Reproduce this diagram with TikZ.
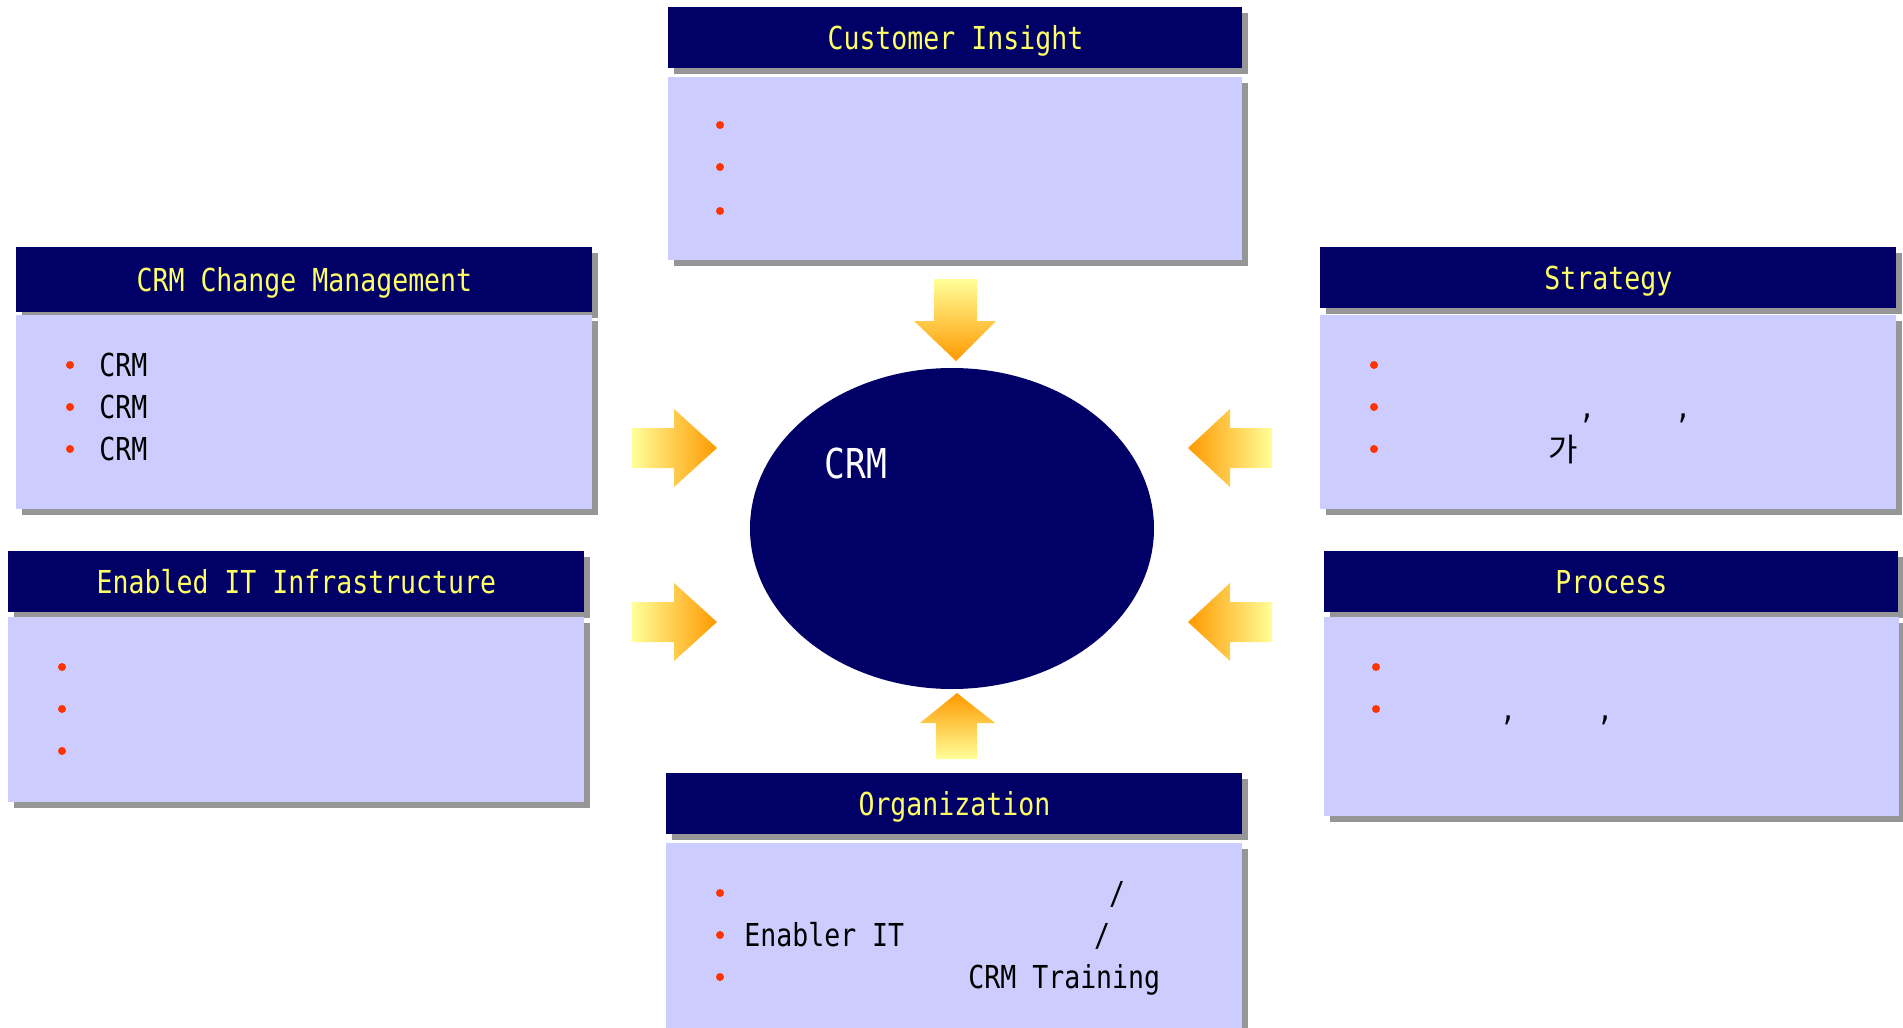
\documentclass[tikz,border=0pt]{standalone}
\usepackage{fontspec}
\usetikzlibrary{shapes.geometric,shadows}
\newfontfamily\gul[FakeStretch=0.84]{DejaVu Sans Mono}
\newfontfamily\kr{Noto Sans CJK KR}
\definecolor{navy}{HTML}{000066}
\definecolor{hdrtxt}{HTML}{FFFF66}
\definecolor{lav}{HTML}{CCCCFF}
\definecolor{shd}{HTML}{969696}
\definecolor{bul}{HTML}{FF3300}
\definecolor{ayel}{HTML}{FFFF99}
\definecolor{aorg}{HTML}{FF9900}
\tikzset{
  sh/.style={drop shadow={shadow xshift=3pt,shadow yshift=-3pt,fill=shd,opacity=1}},
  hdr/.style={sh, fill=navy, text=hdrtxt, font=\gul\fontsize{15.8}{18}\selectfont,
    inner sep=0pt, anchor=north west, text height=11.5pt, text depth=0pt},
  bodybox/.style={sh, fill=lav, inner sep=0pt, anchor=north west},
  txt/.style={font=\gul\fontsize{15.8}{18}\selectfont, inner sep=0pt, anchor=base west, text=black},
  punct/.style={txt, anchor=base},
  krtxt/.style={font=\kr\fontsize{16}{18}\selectfont, inner sep=0pt, anchor=base, text=black},
  dot/.style={fill=bul},
  rarrow/.style={left color=ayel, right color=aorg},
  larrow/.style={left color=aorg, right color=ayel},
  darrow/.style={top color=ayel, bottom color=aorg},
  uarrow/.style={top color=aorg, bottom color=ayel},
}
\begin{document}
\begin{tikzpicture}[x=0.5pt,y=-0.5pt]
\useasboundingbox (0,0) rectangle (1903,1028);

% Customer Insight
\node[hdr, minimum width=287pt, minimum height=30.5pt] (ciH) at (668,7) {Customer Insight};
\node[bodybox, minimum width=287pt, minimum height=91.5pt] (ciB) at (668,77) {};
\foreach \y in {125,167,211} \fill[dot] (720,\y) circle[radius=2pt];

% CRM Change Management
\node[hdr, minimum width=288pt, minimum height=32.5pt] (ccH) at (16,247) {CRM Change Management};
\node[bodybox, minimum width=288pt, minimum height=97pt] (ccB) at (16,315) {};
\foreach \y in {365,407,449} \fill[dot] (70,\y) circle[radius=2pt];
\node[txt] (cc1) at (99,376.5) {CRM};
\node[txt] (cc2) at (99,418.5) {CRM};
\node[txt] (cc3) at (99,460.5) {CRM};

% Strategy
\node[hdr, minimum width=288pt, minimum height=30.5pt] (stH) at (1320,247) {Strategy};
\node[bodybox, minimum width=288pt, minimum height=97pt] (stB) at (1320,315) {};
\foreach \y in {365,407,449} \fill[dot] (1374,\y) circle[radius=2pt];
\node[punct] (st1) at (1587,418.5) {,};
\node[punct] (st2) at (1683,418.5) {,};
\node[krtxt] (st3) at (1563,461) {가};

% Enabled IT Infrastructure
\node[hdr, minimum width=288pt, minimum height=30.5pt] (eiH) at (8,551) {Enabled IT Infrastructure};
\node[bodybox, minimum width=288pt, minimum height=92.5pt] (eiB) at (8,617) {};
\foreach \y in {667,709,751} \fill[dot] (62,\y) circle[radius=2pt];

% Process
\node[hdr, minimum width=287pt, minimum height=30.5pt] (prH) at (1324,551) {Process};
\node[bodybox, minimum width=287.5pt, minimum height=99.5pt] (prB) at (1324,617) {};
\foreach \y in {667,709} \fill[dot] (1376,\y) circle[radius=2pt];
\node[punct] (pr1) at (1508,720.5) {,};
\node[punct] (pr2) at (1605,720.5) {,};

% Organization
\node[hdr, minimum width=288pt, minimum height=30.5pt] (orH) at (666,773) {Organization};
\node[bodybox, minimum width=288pt, minimum height=100pt] (orB) at (666,843) {};
\foreach \y in {893,935,977} \fill[dot] (720,\y) circle[radius=2pt];
\node[punct] (or1) at (1117,904.5) {/};
\node[txt] (or2) at (744,946.5) {Enabler IT};
\node[punct] (or3) at (1102,946.5) {/};
\node[txt] (or4) at (968,988.5) {CRM Training};

% Central ellipse
\node[ellipse, fill=navy, inner sep=0pt, minimum width=202pt, minimum height=160.5pt] (crm) at (952,528.5) {};
\node[font=\gul\fontsize{20.6}{24}\selectfont, text=white, inner sep=0pt, anchor=base west] (crmT) at (824,478) {CRM};

% Block arrows
\shade[rarrow] (632,428) -- (674,428) -- (674,409) -- (717,448) -- (674,487) -- (674,468) -- (632,468) -- cycle;
\shade[rarrow] (632,602) -- (674,602) -- (674,583) -- (717,622) -- (674,661) -- (674,642) -- (632,642) -- cycle;
\shade[larrow] (1272,428) -- (1230,428) -- (1230,409) -- (1188,448) -- (1230,487) -- (1230,468) -- (1272,468) -- cycle;
\shade[larrow] (1272,602) -- (1230,602) -- (1230,583) -- (1188,622) -- (1230,661) -- (1230,642) -- (1272,642) -- cycle;
\shade[darrow] (934,279) -- (977,279) -- (977,321) -- (996,321) -- (956,361) -- (914,321) -- (934,321) -- cycle;
\shade[uarrow] (936,759) -- (936,723) -- (920,723) -- (957,693) -- (995,723) -- (977,723) -- (977,759) -- cycle;
\end{tikzpicture}
\end{document}
